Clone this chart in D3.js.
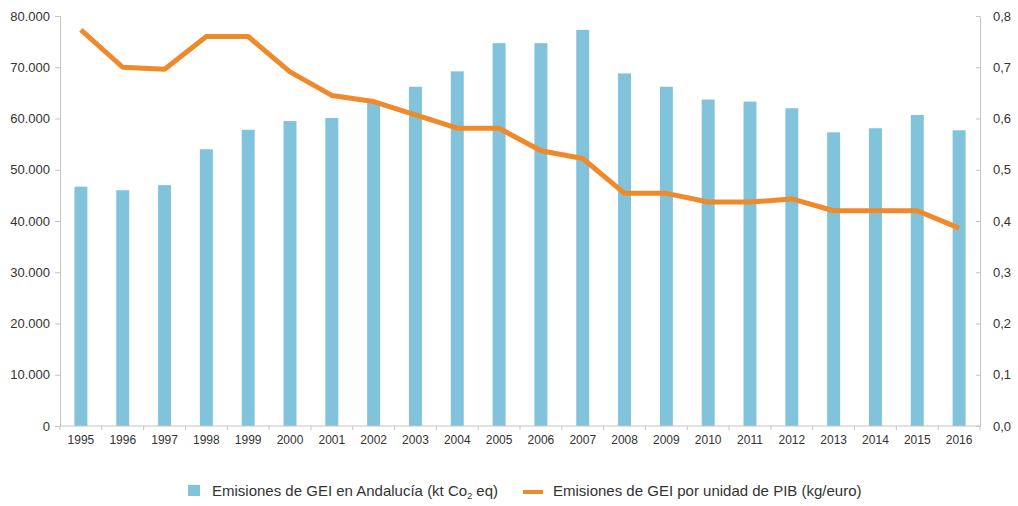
<!DOCTYPE html>
<html>
<head>
<meta charset="utf-8">
<script src="https://cdn.jsdelivr.net/npm/d3@7"></script>
<style>
  body { margin: 0; background: #fff; }
  text { font-family: "Liberation Sans", Arial, sans-serif; fill: #333; }
</style>
</head>
<body>
<div id="container"></div>
<script>
// data
var years = ["1995","1996","1997","1998","1999","2000","2001","2002","2003","2004","2005",
             "2006","2007","2008","2009","2010","2011","2012","2013","2014","2015","2016"];
var emisiones = [46700, 46000, 47000, 54000, 57800, 59500, 60100, 63000, 66200, 69200, 74700,
                 74700, 77300, 68800, 66200, 63700, 63300, 62000, 57300, 58100, 60700, 57700];
var intensidad = [0.773, 0.700, 0.696, 0.760, 0.760, 0.691, 0.645, 0.633, 0.607, 0.581, 0.581,
                  0.537, 0.522, 0.454, 0.454, 0.437, 0.437, 0.443, 0.420, 0.420, 0.420, 0.386];
var leftTicks = [0, 10000, 20000, 30000, 40000, 50000, 60000, 70000, 80000];
var rightTicks = [0, 0.1, 0.2, 0.3, 0.4, 0.5, 0.6, 0.7, 0.8];
var legendLabels = ["Emisiones de GEI en Andalucía (kt Co", "Emisiones de GEI por unidad de PIB (kg/euro)"];

// parameters
var width = 1018,
    height = 506,
    plotLeft = 60,
    plotRight = 980,
    plotTop = 16,
    plotBottom = 426,
    barColor = "#80c3da",
    lineColor = "#ef8a2b",
    axisColor = "#c4c4c4";

var svg = d3.select("#container")
    .append("svg")
    .attr("width", width)
    .attr("height", height);

// scales
var x = d3.scaleBand()
    .domain(years)
    .range([plotLeft, plotRight])
    .paddingInner(0.69)
    .paddingOuter(0.345);

var yLeft = d3.scaleLinear().domain([0, 80000]).range([plotBottom, plotTop]);
var yRight = d3.scaleLinear().domain([0, 0.8]).range([plotBottom, plotTop]);

var fmtLeft = function (d) { return d3.format(",")(d).replace(/,/g, "."); };
var fmtRight = function (d) { return d3.format(".1f")(d).replace(".", ","); };

// bars
svg.append("g").selectAll("rect")
    .data(years)
    .enter()
    .append("rect")
    .attr("x", function (d) { return x(d); })
    .attr("y", function (d, i) { return yLeft(emisiones[i]); })
    .attr("width", x.bandwidth())
    .attr("height", function (d, i) { return plotBottom - yLeft(emisiones[i]); })
    .attr("fill", barColor);

// axes
var gLeft = svg.append("g")
    .attr("transform", "translate(" + plotLeft + ",0)")
    .call(d3.axisLeft(yLeft).tickValues(leftTicks).tickFormat(fmtLeft).tickSize(5).tickPadding(5));

var gRight = svg.append("g")
    .attr("transform", "translate(" + plotRight + ",0)")
    .call(d3.axisRight(yRight).tickValues(rightTicks).tickFormat(fmtRight).tickSizeInner(-4).tickSizeOuter(0).tickPadding(13));

var gBottom = svg.append("g")
    .attr("transform", "translate(0," + plotBottom + ")")
    .call(d3.axisBottom(x).tickSize(0).tickPadding(9));

// boundaries between years
gBottom.selectAll(".sep")
    .data(d3.range(years.length + 1))
    .enter()
    .append("line")
    .attr("class", "sep")
    .attr("x1", function (i) { return plotLeft + i * x.step(); })
    .attr("x2", function (i) { return plotLeft + i * x.step(); })
    .attr("y1", 0)
    .attr("y2", 4)
    .attr("stroke", axisColor);

[gLeft, gRight, gBottom].forEach(function (g) {
    g.select(".domain").attr("stroke", axisColor);
    g.selectAll(".tick line").attr("stroke", axisColor);
    g.selectAll("text").attr("fill", "#333").style("font-family", '"Liberation Sans", Arial, sans-serif');
});
gLeft.selectAll("text").style("font-size", "13px");
gRight.selectAll("text").style("font-size", "13px");
gBottom.selectAll("text").style("font-size", "12px");
gBottom.select(".domain").attr("d", "M" + plotLeft + ",0H" + plotRight);

// line
var line = d3.line()
    .x(function (d, i) { return x(years[i]) + x.bandwidth() / 2; })
    .y(function (d) { return yRight(d); });

svg.append("path")
    .datum(intensidad)
    .attr("d", line)
    .attr("fill", "none")
    .attr("stroke", lineColor)
    .attr("stroke-width", 5)
    .attr("stroke-linejoin", "round");

// legend
var legend = svg.append("g").style("font-size", "15px");

legend.append("rect")
    .attr("x", 188).attr("y", 485)
    .attr("width", 12).attr("height", 11)
    .attr("fill", barColor);

var t1 = legend.append("text")
    .attr("x", 212).attr("y", 496);
t1.append("tspan").text(legendLabels[0]);
t1.append("tspan").attr("dy", 3).style("font-size", "9px").text("2");
t1.append("tspan").attr("dy", -3).text(" eq)");

legend.append("line")
    .attr("x1", 523).attr("x2", 543)
    .attr("y1", 492).attr("y2", 492)
    .attr("stroke", lineColor)
    .attr("stroke-width", 4);

legend.append("text")
    .attr("x", 553).attr("y", 496)
    .text(legendLabels[1]);
</script>
</body>
</html>
